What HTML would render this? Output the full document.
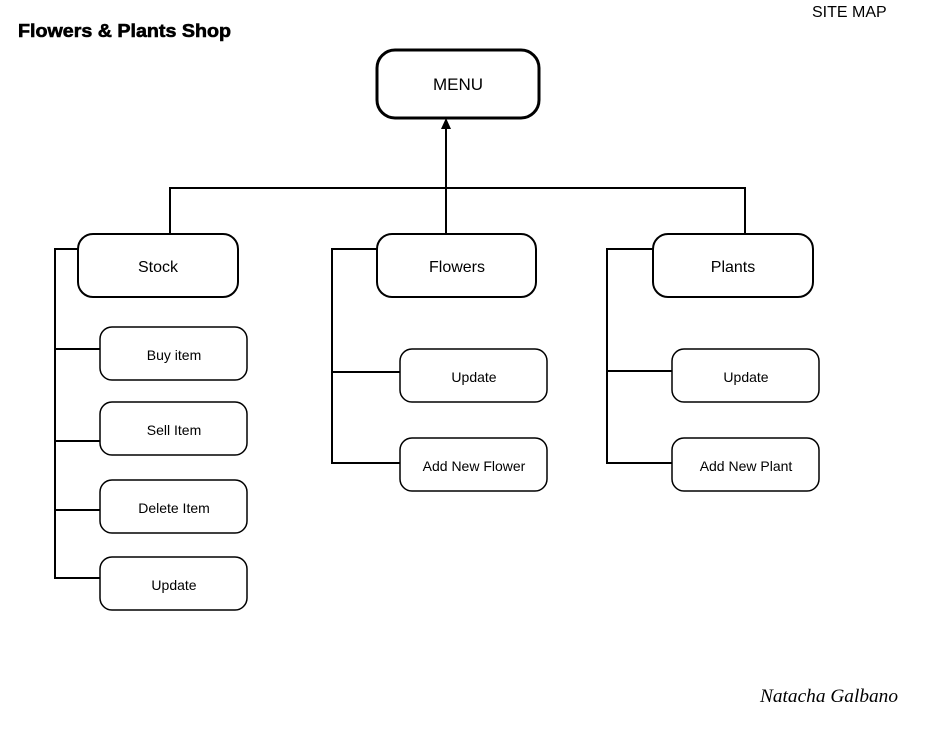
<!DOCTYPE html>
<html><head><meta charset="utf-8"><style>
html,body{margin:0;padding:0;background:#fff;}
svg{display:block;}
text{font-family:"Liberation Sans",sans-serif;fill:#000;}
</style></head><body>
<svg width="940" height="740" viewBox="0 0 940 740" xmlns="http://www.w3.org/2000/svg">
<text x="18" y="37" font-size="18.5" font-weight="bold" textLength="213" lengthAdjust="spacingAndGlyphs" stroke="#000" stroke-width="0.6">Flowers &amp; Plants Shop</text>
<text x="812" y="17" font-size="16">SITE MAP</text>
<g fill="none" stroke="#000" stroke-width="2">
<polyline points="170,234 170,188 745,188 745,234"/>
<line x1="446" y1="234" x2="446" y2="126"/>
<polyline points="78,249 55,249 55,578 100,578"/>
<line x1="55" y1="349" x2="100" y2="349"/>
<line x1="55" y1="441" x2="100" y2="441"/>
<line x1="55" y1="510" x2="100" y2="510"/>
<polyline points="377,249 332,249 332,463 400,463"/>
<line x1="332" y1="372" x2="400" y2="372"/>
<polyline points="653,249 607,249 607,463 672,463"/>
<line x1="607" y1="371" x2="672" y2="371"/>
</g>
<polygon points="446,118 441,129 451,129" fill="#000"/>
<g fill="#fff" stroke="#000">
<rect x="377" y="50" width="162" height="68" rx="18" stroke-width="3"/>
<rect x="78" y="234" width="160" height="63" rx="15" stroke-width="2"/>
<rect x="377" y="234" width="159" height="63" rx="15" stroke-width="2"/>
<rect x="653" y="234" width="160" height="63" rx="15" stroke-width="2"/>
<rect x="100" y="327" width="147" height="53" rx="12" stroke-width="1.5"/>
<rect x="100" y="402" width="147" height="53" rx="12" stroke-width="1.5"/>
<rect x="100" y="480" width="147" height="53" rx="12" stroke-width="1.5"/>
<rect x="100" y="557" width="147" height="53" rx="12" stroke-width="1.5"/>
<rect x="400" y="349" width="147" height="53" rx="12" stroke-width="1.5"/>
<rect x="400" y="438" width="147" height="53" rx="12" stroke-width="1.5"/>
<rect x="672" y="349" width="147" height="53" rx="12" stroke-width="1.5"/>
<rect x="672" y="438" width="147" height="53" rx="12" stroke-width="1.5"/>
</g>
<g text-anchor="middle">
<text x="458" y="90" font-size="17">MENU</text>
<text x="158" y="272" font-size="16">Stock</text>
<text x="457" y="272" font-size="16">Flowers</text>
<text x="733" y="272" font-size="16">Plants</text>
<text x="174" y="360" font-size="14">Buy item</text>
<text x="174" y="435" font-size="14">Sell Item</text>
<text x="174" y="513" font-size="14">Delete Item</text>
<text x="174" y="590" font-size="14">Update</text>
<text x="474" y="382" font-size="14">Update</text>
<text x="474" y="471" font-size="14">Add New Flower</text>
<text x="746" y="382" font-size="14">Update</text>
<text x="746" y="471" font-size="14">Add New Plant</text>
</g>
<text x="760" y="702" font-size="19" textLength="138" lengthAdjust="spacingAndGlyphs" style="font-family:'Liberation Serif',serif;font-style:italic;">Natacha Galbano</text>
</svg>
</body></html>
